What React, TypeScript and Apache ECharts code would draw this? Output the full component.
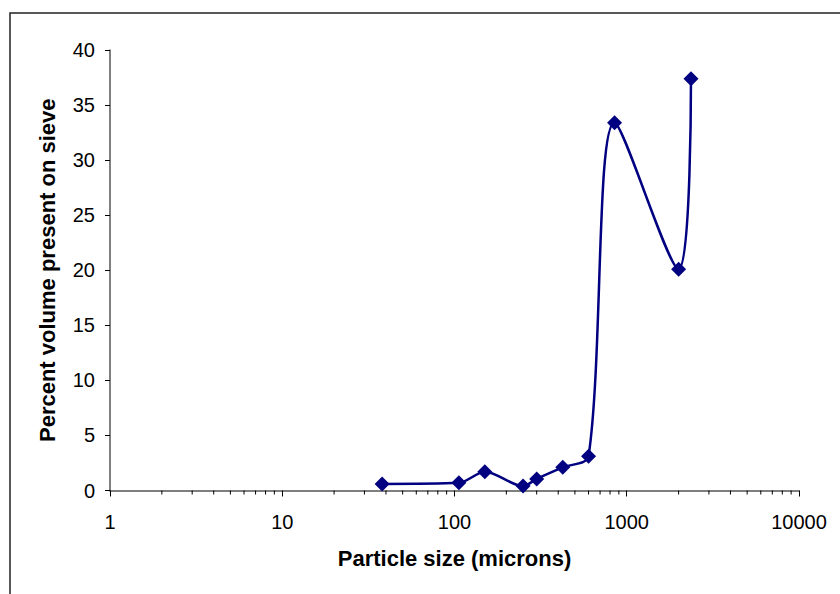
import React, { useEffect, useRef } from "react";
import * as echarts from "echarts";

const particleSizes = [38, 106, 150, 250, 300, 425, 600, 850, 2000, 2360];
const percentVolume = [0.6, 0.7, 1.7, 0.4, 1.05, 2.1, 3.1, 33.4, 20.1, 37.4];
const minorTickValues = [
  2, 3, 4, 5, 6, 7, 8, 9,
  20, 30, 40, 50, 60, 70, 80, 90,
  200, 300, 400, 500, 600, 700, 800, 900,
  2000, 3000, 4000, 5000, 6000, 7000, 8000, 9000,
];
const xAxisTitle = "Particle size (microns)";
const yAxisTitle = "Percent volume present on sieve";

const FONT = "'Liberation Sans', Arial, sans-serif";

export default function App() {
  const ref = useRef<HTMLDivElement>(null);
  useEffect(() => {
    if (!ref.current) return;
    const chart = echarts.init(ref.current, null, { renderer: "svg" });
    const seriesData = particleSizes.map((x, i) => [x, percentVolume[i]]);
    chart.setOption({
      animation: false,
      backgroundColor: "#ffffff",
      graphic: [
        {
          type: "rect",
          left: 7.5,
          top: 10.5,
          shape: { x: 0, y: 0, width: 1000, height: 1000 },
          style: { fill: "none", stroke: "#222", lineWidth: 1.5 },
          silent: true,
        },
      ],
      grid: { left: 110, right: 41, top: 50, bottom: 103.5, containLabel: false },
      xAxis: {
        type: "log",
        logBase: 10,
        min: 1,
        max: 10000,
        name: xAxisTitle,
        nameLocation: "middle",
        nameGap: 57,
        nameTextStyle: { fontFamily: FONT, fontSize: 22, fontWeight: "bold", color: "#000" },
        axisLine: { show: true, onZero: false, lineStyle: { color: "#555", width: 1.5 } },
        axisTick: { show: true, inside: false, length: 6, lineStyle: { color: "#000", width: 1 } },
        axisLabel: {
          fontFamily: FONT,
          fontSize: 20,
          color: "#000",
          margin: 21,
          formatter: (v: number) => String(Math.round(v)),
        },
        splitLine: { show: false },
      },
      yAxis: {
        type: "value",
        min: 0,
        max: 40,
        interval: 5,
        name: yAxisTitle,
        nameLocation: "middle",
        nameGap: 52,
        nameTextStyle: { fontFamily: FONT, fontSize: 22, fontWeight: "bold", color: "#000" },
        axisLine: { show: true, lineStyle: { color: "#555", width: 1.5 } },
        axisTick: { show: true, inside: false, length: 5, lineStyle: { color: "#000", width: 1 } },
        axisLabel: { fontFamily: FONT, fontSize: 20, color: "#000", margin: 15 },
        splitLine: { show: false },
      },
      series: [
        {
          type: "custom",
          silent: true,
          clip: false,
          z: 1,
          data: minorTickValues.map((v) => [v, 0]),
          renderItem: (params: any, api: any) => {
            const p = api.coord([api.value(0), 0]);
            return {
              type: "line",
              shape: { x1: p[0], y1: p[1], x2: p[0], y2: p[1] + 4 },
              style: { stroke: "#000", lineWidth: 1 },
            };
          },
        },
        {
          type: "line",
          data: seriesData,
          smooth: 0.3,
          symbol: "diamond",
          symbolSize: 15,
          z: 3,
          lineStyle: { color: "#000080", width: 2.5 },
          itemStyle: { color: "#000080" },
        },
      ],
    });
    return () => chart.dispose();
  }, []);
  return (
    <div
      ref={ref}
      style={{ position: "fixed", left: 0, top: 0, width: 840, height: 594, background: "#fff" }}
    />
  );
}
